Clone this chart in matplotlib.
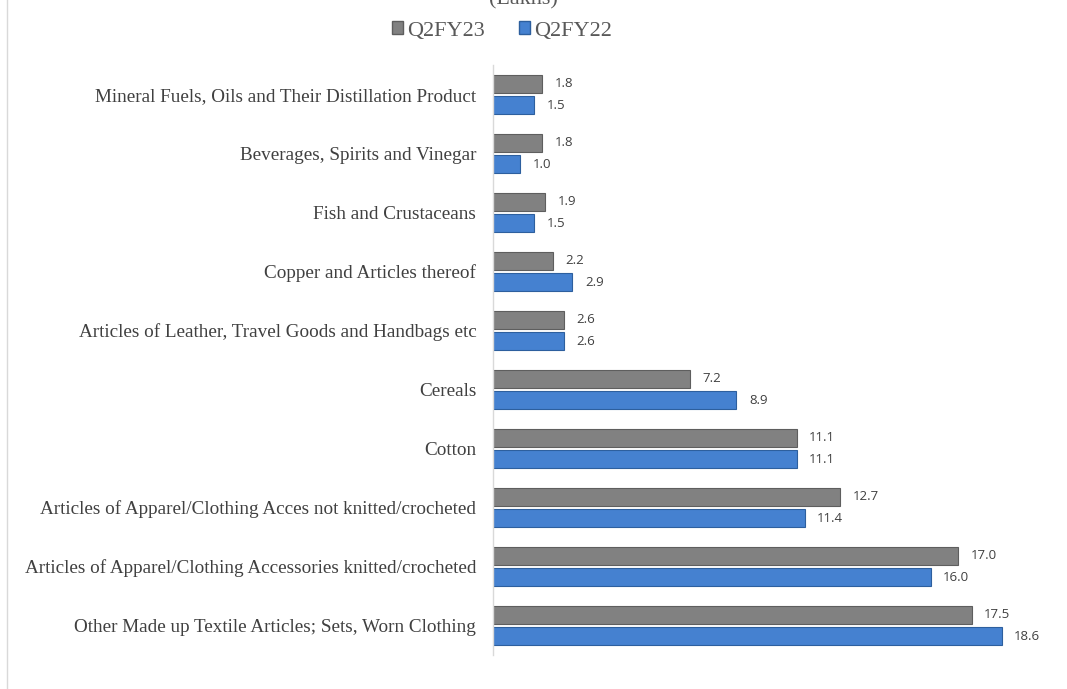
import matplotlib.pyplot as plt
from matplotlib.patches import Patch
from matplotlib.lines import Line2D
import numpy as np

categories = [
    "Mineral Fuels, Oils and Their Distillation Product",
    "Beverages, Spirits and Vinegar",
    "Fish and Crustaceans",
    "Copper and Articles thereof",
    "Articles of Leather, Travel Goods and Handbags etc",
    "Cereals",
    "Cotton",
    "Articles of Apparel/Clothing Acces not knitted/crocheted",
    "Articles of Apparel/Clothing Accessories knitted/crocheted",
    "Other Made up Textile Articles; Sets, Worn Clothing",
]
q2fy23 = [1.8, 1.8, 1.9, 2.2, 2.6, 7.2, 11.1, 12.7, 17.0, 17.5]
q2fy22 = [1.5, 1.0, 1.5, 2.9, 2.6, 8.9, 11.1, 11.4, 16.0, 18.6]

gray = "#818181"
gray_edge = "#5e5e5e"
blue = "#4581d0"
blue_edge = "#2d5f9e"
serif = "Liberation Serif"

fig = plt.figure(figsize=(10.67, 6.89), dpi=100)
ax = fig.add_axes([493 / 1067, 1 - 655 / 689, 547 / 1067, 590 / 689])

# top category first
y = np.arange(len(categories))[::-1]
h = 0.3
off = 0.18

b23 = ax.barh(y + off, q2fy23, height=h, color=gray, edgecolor=gray_edge, linewidth=0.8)
b22 = ax.barh(y - off, q2fy22, height=h, color=blue, edgecolor=blue_edge, linewidth=0.8)

for bars, vals in [(b23, q2fy23), (b22, q2fy22)]:
    for bar, v in zip(bars, vals):
        ax.annotate(f"{v:.1f}", (bar.get_width(), bar.get_y() + bar.get_height() / 2),
                    xytext=(9, 0), textcoords="offset points", ha="left", va="center",
                    fontsize=9.5, family="Open Sans", color="#404040")

ax.set_xlim(0, 20)
ax.set_ylim(-0.5, 9.5)
ax.set_yticks(y)
ax.set_yticklabels(categories, family=serif, fontsize=13.8, color="#404040")
ax.tick_params(axis="y", length=0, pad=12)
ax.set_xticks([])
for s in ["top", "right", "bottom"]:
    ax.spines[s].set_visible(False)
ax.spines["left"].set_color("#d9d9d9")
ax.spines["left"].set_linewidth(1)

# cut-off title and legend
fig.text(523 / 1067, 1.0, "(Lakhs)", ha="center", va="center", family=serif,
         fontsize=16, color="#595959")
handles = [Patch(facecolor=gray, edgecolor=gray_edge), Patch(facecolor=blue, edgecolor=blue_edge)]
fig.legend(handles, ["Q2FY23", "Q2FY22"], loc="center", bbox_to_anchor=(502 / 1067, 1 - 31 / 689),
           ncol=2, frameon=False, prop={"family": serif, "size": 16}, handlelength=0.5,
           handleheight=0.5, handletextpad=0.2, columnspacing=1.5, labelcolor="#595959")

# chart area border on the left
fig.add_artist(Line2D([7 / 1067, 7 / 1067], [0, 1], color="#d9d9d9", linewidth=1))

fig.savefig("out.png", dpi=100)
